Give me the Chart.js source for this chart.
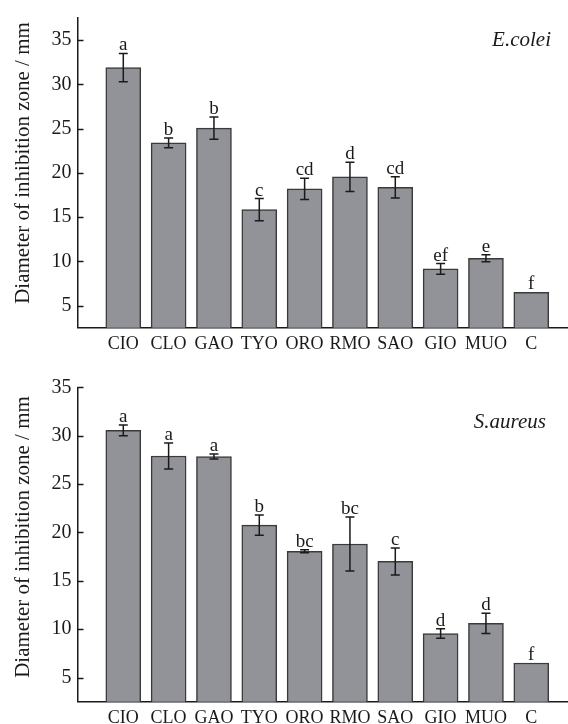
<!DOCTYPE html>
<html>
<head>
<meta charset="utf-8">
<script src="https://cdn.jsdelivr.net/npm/chart.js@4.4.1/dist/chart.umd.min.js"></script>
<style>
  html, body { margin: 0; padding: 0; background: #fff; }
  .wrap { position: absolute; left: 0; width: 568px; }
  #topWrap { top: 0; height: 350px; }
  #bottomWrap { top: 350px; height: 374px; }
</style>
</head>
<body>
<div class="wrap" id="topWrap"><canvas id="ecoliChart"></canvas></div>
<div class="wrap" id="bottomWrap"><canvas id="aureusChart"></canvas></div>
<script>
const categories = ['CIO', 'CLO', 'GAO', 'TYO', 'ORO', 'RMO', 'SAO', 'GIO', 'MUO', 'C'];
const yTicks = [5, 10, 15, 20, 25, 30, 35];
const yTitle = 'Diameter of inhibition zone / mm';

const ecoliMeans   = [31.9, 23.4, 25.05, 15.85, 18.2, 19.55, 18.35, 9.15, 10.35, 6.5];
const ecoliErrors  = [1.6, 0.55, 1.25, 1.25, 1.2, 1.65, 1.2, 0.6, 0.4, 0];
const ecoliLetters = ['a', 'b', 'b', 'c', 'cd', 'd', 'cd', 'ef', 'e', 'f'];

const aureusMeans   = [30.55, 27.9, 27.85, 20.75, 18.05, 18.8, 17.0, 9.55, 10.6, 6.5];
const aureusErrors  = [0.55, 1.35, 0.25, 1.05, 0.15, 2.8, 1.4, 0.5, 1.05, 0];
const aureusLetters = ['a', 'a', 'a', 'b', 'bc', 'bc', 'c', 'd', 'd', 'f'];

const SERIF = '"Liberation Serif", "Times New Roman", serif';
const INK = '#1a1a1a';

// error bars, significance letters, inward ticks, axis title and species name
function annotatePlugin(means, errors, letters, species, spX, spY, titleY) {
  return {
    id: 'annotate',
    afterDatasetsDraw(chart) {
      const { ctx, chartArea, scales: { x, y } } = chart;
      ctx.save();
      ctx.strokeStyle = INK;
      ctx.lineWidth = 1.5;
      yTicks.forEach(v => {
        const py = Math.round(y.getPixelForValue(v)) + 0.5;
        ctx.beginPath();
        ctx.moveTo(chartArea.left, py);
        ctx.lineTo(chartArea.left + 6, py);
        ctx.stroke();
      });
      ctx.fillStyle = INK;
      ctx.font = '19px ' + SERIF;
      ctx.textAlign = 'center';
      ctx.textBaseline = 'alphabetic';
      means.forEach((m, i) => {
        const px = x.getPixelForValue(i);
        const e = errors[i];
        let top = y.getPixelForValue(m);
        if (e > 0) {
          const hi = y.getPixelForValue(m + e);
          const lo = y.getPixelForValue(m - e);
          ctx.beginPath();
          ctx.moveTo(px, hi); ctx.lineTo(px, lo);
          ctx.moveTo(px - 4.5, hi); ctx.lineTo(px + 4.5, hi);
          ctx.moveTo(px - 4.5, lo); ctx.lineTo(px + 4.5, lo);
          ctx.stroke();
          top = hi;
        }
        ctx.fillText(letters[i], px, top - 3);
      });
      ctx.font = 'italic 21px ' + SERIF;
      ctx.textAlign = 'right';
      ctx.fillText(species, spX, spY);

      ctx.translate(23, titleY);
      ctx.rotate(-Math.PI / 2);
      ctx.font = '21px ' + SERIF;
      ctx.textAlign = 'center';
      ctx.textBaseline = 'middle';
      ctx.fillText(yTitle, 0, 0);
      ctx.restore();
    }
  };
}

function makeChart(id, means, errors, letters, species, yMax, padTop, spX, spY, titleY) {
  return new Chart(document.getElementById(id), {
    type: 'bar',
    data: {
      datasets: [{
        data: means.map((v, i) => ({ x: i, y: v })),
        backgroundColor: '#929398',
        borderColor: '#3a3a3a',
        borderWidth: 1.5,
        barThickness: 35
      }]
    },
    options: {
      responsive: true,
      maintainAspectRatio: false,
      animation: false,
      layout: { padding: { top: padTop, left: 0, right: 0, bottom: 0 } },
      plugins: { legend: { display: false }, tooltip: { enabled: false } },
      scales: {
        x: {
          type: 'linear',
          offset: false,
          min: -1.01,
          max: 9.81,
          afterBuildTicks: s => { s.ticks = categories.map((c, i) => ({ value: i })); },
          afterFit: s => { s.height = 22.3; },
          grid: { display: false, drawTicks: false, offset: false },
          border: { display: true, color: INK, width: 1.5 },
          ticks: {
            autoSkip: false, maxRotation: 0, padding: 6, color: INK,
            font: { family: SERIF, size: 18 },
            callback: v => categories[v]
          }
        },
        y: {
          min: 2.5,
          max: yMax,
          afterBuildTicks: s => { s.ticks = yTicks.map(v => ({ value: v })); },
          afterFit: s => { s.width = 77.5; },
          grid: { display: false, drawTicks: false },
          border: { display: true, color: INK, width: 1.5 },
          ticks: { padding: 6, color: INK, font: { family: SERIF, size: 20 } }
        }
      }
    },
    plugins: [annotatePlugin(means, errors, letters, species, spX, spY, titleY)]
  });
}

makeChart('ecoliChart', ecoliMeans, ecoliErrors, ecoliLetters, 'E.colei', 37.5, 13, 551, 46, 163);
makeChart('aureusChart', aureusMeans, aureusErrors, aureusLetters, 'S.aureus', 35, 37.3, 546, 78, 187);
</script>
</body>
</html>
